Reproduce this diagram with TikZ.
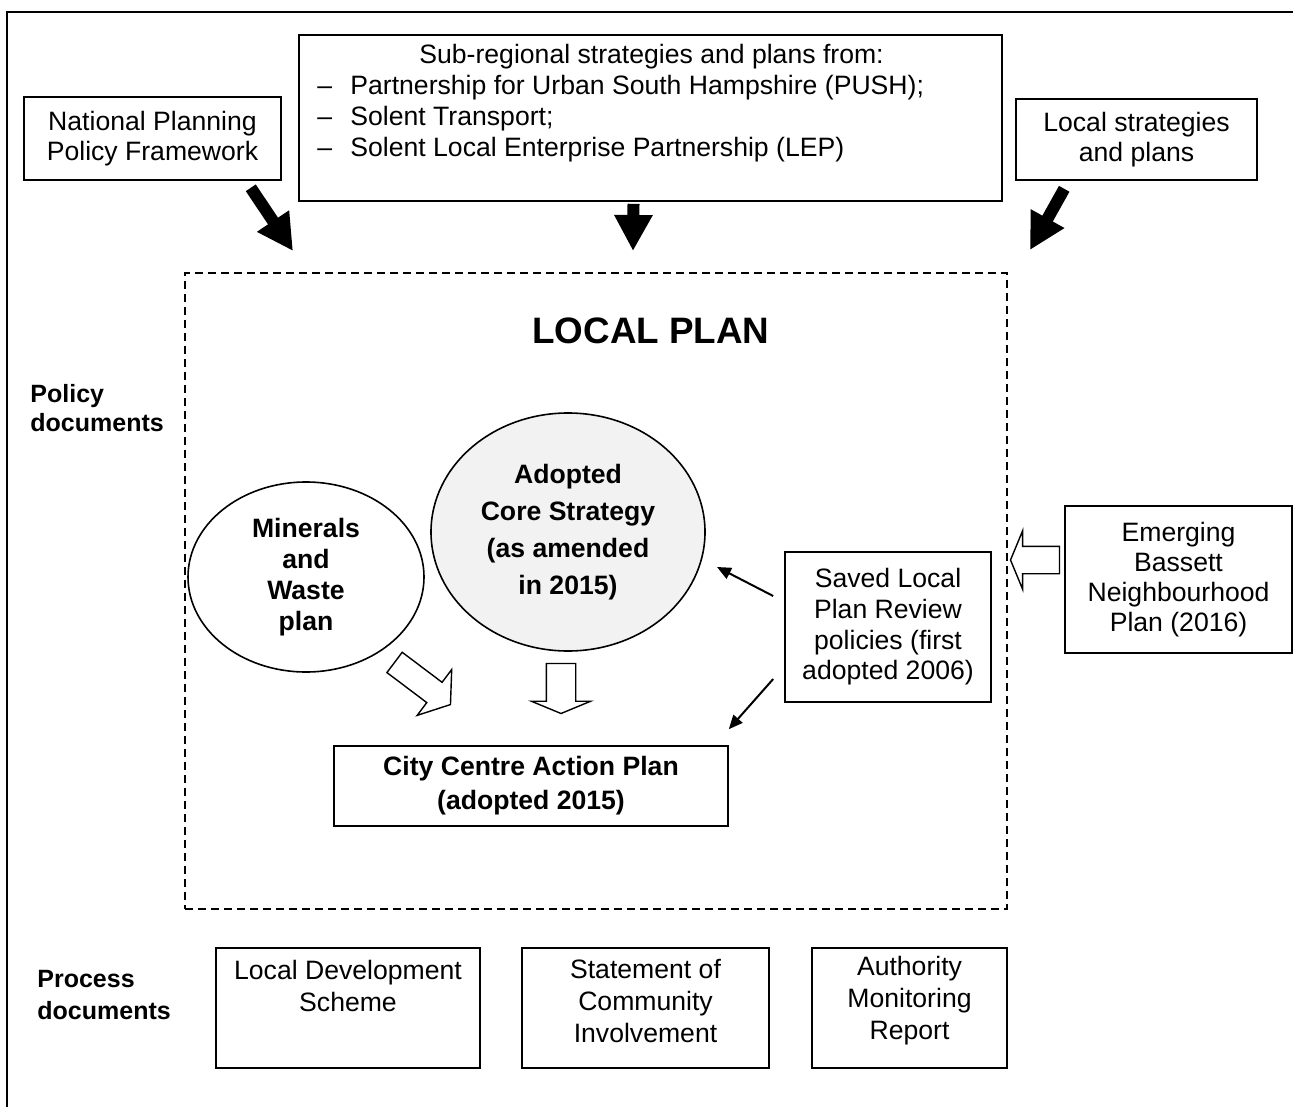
\documentclass[tikz,border=0pt]{standalone}
\usepackage{fontspec}
\setmainfont{Liberation Sans}
\definecolor{coregray}{RGB}{242, 242, 242}
\usetikzlibrary{shapes, arrows.meta, positioning, calc}

\begin{document}
\begin{tikzpicture}[x=0.5pt, y=-0.5pt,
  box/.style={draw, line width=0.8pt, align=center, inner sep=0pt, font=\fontsize{13.3}{15}\selectfont},
  txt/.style={align=center, inner sep=0pt, font=\fontsize{13.3}{15}\selectfont},
  boldtxt/.style={align=left, inner sep=0pt, anchor=west},
  blob/.style={ellipse, draw, line width=0.8pt, align=center, inner sep=0pt},
  bigarrow/.style={line width=6pt, -{Triangle[length=18pt, width=18pt]}},
  thinarrow/.style={line width=1pt, -{Triangle[length=7pt, width=6pt]}},
  hollow/.style={single arrow, draw, line width=0.7pt, fill=white, minimum width=0pt, single arrow tip angle=135, anchor=tail},
]
\useasboundingbox (0,0) rectangle (1293,1106);
% Outer frame (runs off the page on the right and bottom)
\draw[line width=0.75pt] (7,12) rectangle (1340,1140);

% Sources on top
\node[box, minimum width=128.5pt, minimum height=41.5pt] (nppf) at (152.5,138.5) {National Planning\\Policy Framework};
\node[box, minimum width=351.5pt, minimum height=83pt] (sub) at (650.5,118) {};
\node[txt, align=left, anchor=west, font=\fontsize{13.3}{15.5}\selectfont] (subtxt) at (317,103.5)
{\hspace*{51pt}Sub-regional strategies and plans from:\\
\makebox[16.5pt][l]{–}Partnership for Urban South Hampshire (PUSH);\\
\makebox[16.5pt][l]{–}Solent Transport;\\
\makebox[16.5pt][l]{–}Solent Local Enterprise Partnership (LEP)};
\node[box, minimum width=120.5pt, minimum height=40.5pt] (local) at (1136.5,139.5) {Local strategies\\and plans};

% Arrows into the local plan
\coordinate (in1) at (293,251);
\coordinate (in2) at (633,251);
\coordinate (in3) at (1030,250);
\draw[bigarrow] ($(nppf.south east)+(-31,7)$) -- (in1);
\draw[bigarrow] ($(sub.south)+(-17,2)$) -- (in2);
\draw[bigarrow] ($(local.south west)+(49,8)$) -- (in3);

% Local plan frame
\node[draw, line width=0.75pt, dash pattern=on 4pt off 2.5pt, minimum width=411pt, minimum height=318pt, inner sep=0pt] (lp) at (596,591) {};
\node[inner sep=0pt, font=\fontsize{18.4}{22}\selectfont\bfseries] (lptitle) at (651,331) {LOCAL PLAN};
\node[boldtxt, font=\fontsize{12.5}{14.5}\selectfont\bfseries] (poldoc) at (30,408) {Policy\\documents};

% Plan documents
\node[blob, minimum width=118pt, minimum height=95pt, font=\fontsize{13.3}{15.5}\selectfont\bfseries] (mw) at (306,577) {Minerals\\and\\Waste\\plan};
\node[blob, fill=coregray, minimum width=137pt, minimum height=119pt, font=\fontsize{13.3}{18.5}\selectfont\bfseries] (core) at (568,532) {Adopted\\Core Strategy\\(as amended\\in 2015)};
\node[box, minimum width=103pt, minimum height=75pt, font=\fontsize{13.3}{15.3}\selectfont] (saved) at (888,627) {Saved Local\\Plan Review\\policies (first\\adopted 2006)};
\node[box, minimum width=113.5pt, minimum height=73.5pt] (emerg) at (1178.5,579.5) {Emerging\\Bassett\\Neighbourhood\\Plan (2016)};
\node[box, minimum width=197pt, minimum height=40pt, font=\fontsize{13.3}{17}\selectfont\bfseries] (ccap) at (531,786) {City Centre Action Plan\\(adopted 2015)};

% Hollow arrows
\node[hollow, rotate=-37, minimum height=35pt, inner sep=6pt, single arrow head extend=8pt, single arrow tip angle=110] (mwarrow) at (394,662) {};
\node[hollow, rotate=-90, minimum height=25pt, inner sep=7pt, single arrow head extend=7.5pt] (corearrow) at ($(core.south)+(-7,11)$) {};
\node[hollow, rotate=180, minimum height=24.5pt, inner sep=6.5pt, single arrow head extend=7.75pt] (emergarrow) at ($(emerg.west)+(-4,-19.5)$) {};

% Saved policies feed both
\draw[thinarrow] ($(saved.west)+(-11,-31)$) -- ($(core)+(149,35)$);
\draw[thinarrow] ($(saved.west)+(-11,52)$) -- ($(ccap.north east)+(0,-16)$);

% Process documents
\node[boldtxt, font=\fontsize{12.5}{16}\selectfont\bfseries] (procdoc) at (37,995) {Process\\documents};
\node[draw, line width=0.8pt, minimum width=132pt, minimum height=60pt, inner sep=0pt] (lds) at (348,1008) {};
\node[txt, font=\fontsize{13.3}{16}\selectfont] (ldstxt) at (348,986) {Local Development\\Scheme};
\node[draw, line width=0.8pt, minimum width=123.5pt, minimum height=60pt, inner sep=0pt] (sci) at (645.5,1008) {};
\node[txt, font=\fontsize{13.3}{16}\selectfont] (scitxt) at (645.5,1001) {Statement of\\Community\\Involvement};
\node[draw, line width=0.8pt, minimum width=97.5pt, minimum height=60pt, inner sep=0pt] (amr) at (909.5,1008) {};
\node[txt, font=\fontsize{13.3}{16}\selectfont] (amrtxt) at (909.5,1001) {Authority\\Monitoring\\Report};
\end{tikzpicture}
\end{document}
